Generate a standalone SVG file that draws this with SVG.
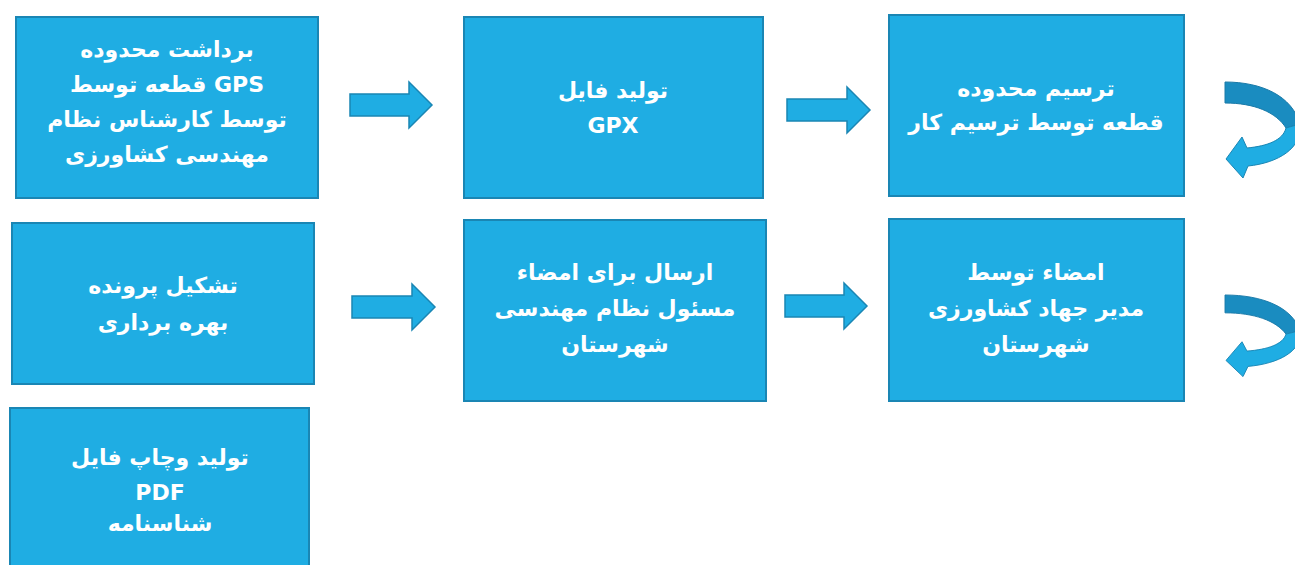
<svg xmlns="http://www.w3.org/2000/svg" width="1295" height="565" viewBox="0 0 1295 565">
<style>
.box{fill:#1FADE3;stroke:#1A86B4;stroke-width:2}
.t{font-family:"DejaVu Sans","Noto Sans",sans-serif;font-weight:bold;font-size:22px;fill:#FFFFFF;text-anchor:middle;direction:rtl}
.arr{fill:#1FADE3;stroke:#1A86B4;stroke-width:1.5;stroke-linejoin:miter}
.dk{fill:#1A8CC0;stroke:#1A7AA8;stroke-width:1}
.lt{fill:#1FADE3;stroke:#1A86B4;stroke-width:1}
</style>
<rect width="1295" height="565" fill="#FFFFFF"/>
<g id="node1"><rect class="box" x="16" y="17" width="302" height="181"/>
<text class="t" x="167" y="57">برداشت محدوده</text>
<text class="t" x="167" y="92">GPS قطعه توسط</text>
<text class="t" x="167" y="127">توسط کارشناس نظام</text>
<text class="t" x="167" y="162">مهندسی کشاورزی</text></g>
<g id="node2"><rect class="box" x="464" y="17" width="299" height="181"/>
<text class="t" x="613" y="98">تولید فایل</text>
<text class="t" x="613" y="133">GPX</text></g>
<g id="node3"><rect class="box" x="889" y="15" width="295" height="181"/>
<text class="t" x="1036" y="96">ترسیم محدوده</text>
<text class="t" x="1036" y="130">قطعه توسط ترسیم کار</text></g>
<g id="node4"><rect class="box" x="12" y="223" width="302" height="161"/>
<text class="t" x="163" y="293">تشکیل پرونده</text>
<text class="t" x="163" y="330">بهره برداری</text></g>
<g id="node5"><rect class="box" x="464" y="220" width="302" height="181"/>
<text class="t" x="615" y="280">ارسال برای امضاء</text>
<text class="t" x="615" y="316">مسئول نظام مهندسی</text>
<text class="t" x="615" y="352">شهرستان</text></g>
<g id="node6"><rect class="box" x="889" y="219" width="295" height="182"/>
<text class="t" x="1036" y="280">امضاء توسط</text>
<text class="t" x="1036" y="316">مدیر جهاد کشاورزی</text>
<text class="t" x="1036" y="352">شهرستان</text></g>
<g id="node7"><rect class="box" x="10" y="408" width="299" height="162"/>
<text class="t" x="160" y="465">تولید وچاپ فایل</text>
<text class="t" x="160" y="500">PDF</text>
<text class="t" x="160" y="531">شناسنامه</text></g>
<g id="connectors">
<polygon class="arr" points="350,94 409,94 409,82 432,105 409,128 409,116 350,116"/>
<polygon class="arr" points="787,99 847,99 847,87 870,110 847,133 847,121 787,121"/>
<polygon class="arr" points="352,296 412,296 412,284 435,307 412,330 412,318 352,318"/>
<polygon class="arr" points="785,295 844,295 844,283 867,306 844,329 844,317 785,317"/>
<g id="curve1">
<path class="dk" d="M1225,82 C1262,82 1292,96 1300,124 L1286,128 C1276,112 1254,103 1225,103 Z"/>
<path class="lt" d="M1300,124 C1303,148 1278,163 1248,166 L1243,178 L1226,159 L1242,137 L1247,148 C1268,146 1283,140 1286,128 Z"/>
</g>
<g id="curve2" transform="translate(0,295) scale(1,0.85) translate(0,-82)">
<path class="dk" d="M1225,82 C1262,82 1292,96 1300,124 L1286,128 C1276,112 1254,103 1225,103 Z"/>
<path class="lt" d="M1300,124 C1303,148 1278,163 1248,166 L1243,178 L1226,159 L1242,137 L1247,148 C1268,146 1283,140 1286,128 Z"/>
</g>
</g>
</svg>
